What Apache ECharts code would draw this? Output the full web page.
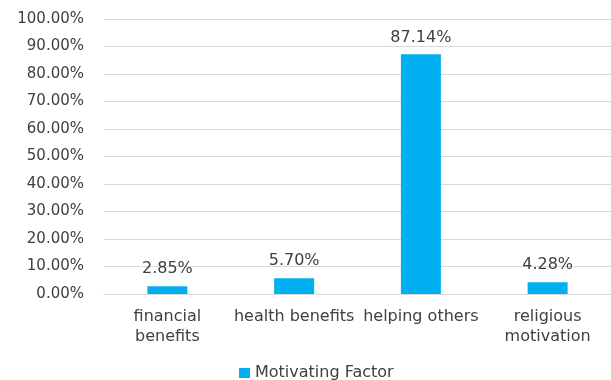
<!DOCTYPE html>
<html>
<head>
<meta charset="utf-8">
<script src="https://cdn.jsdelivr.net/npm/echarts@6/dist/echarts.min.js"></script>
<style>
  html, body { margin: 0; padding: 0; background: #fff; }
  #chart { width: 611px; height: 380px; }
</style>
</head>
<body>
<div id="chart"></div>
<script>
// Motivating factors, share of respondents (%)
const categories = ['financial\nbenefits', 'health benefits', 'helping others', 'religious\nmotivation'];
const values = [2.85, 5.70, 87.14, 4.28];
const seriesName = 'Motivating Factor';

const chart = echarts.init(document.getElementById('chart'), null, { renderer: 'canvas' });
const font = '"DejaVu Sans", sans-serif';
const textColor = '#404040';

chart.setOption({
  animation: false,
  textStyle: { fontFamily: font },
  grid: { left: 104, right: -2, top: 19, bottom: 86 },
  legend: {
    top: 365,
    left: 239,
    padding: 0,
    data: [seriesName],
    icon: 'rect',
    itemWidth: 11,
    itemHeight: 10,
    itemGap: 6,
    textStyle: { fontSize: 16, color: textColor, fontFamily: font }
  },
  xAxis: {
    type: 'category',
    data: categories,
    axisLine: { show: true, lineStyle: { color: '#d9d9d9', width: 1 } },
    axisTick: { show: false },
    axisLabel: { color: textColor, fontSize: 16, margin: 13, lineHeight: 20, fontFamily: font, interval: 0 }
  },
  yAxis: {
    type: 'value',
    min: 0,
    max: 100,
    interval: 10,
    axisLine: { show: false },
    axisTick: { show: false },
    splitLine: { lineStyle: { color: '#d9d9d9', width: 1 } },
    axisLabel: {
      color: textColor, fontSize: 15, margin: 20, fontFamily: font,
      formatter: v => v.toFixed(2) + '%'
    }
  },
  series: [{
    name: seriesName,
    type: 'bar',
    data: values,
    barWidth: 40,
    itemStyle: { color: '#00b0f0' },
    label: {
      show: true,
      position: 'top',
      distance: 9,
      color: textColor,
      fontSize: 16,
      fontFamily: font,
      formatter: p => p.value.toFixed(2) + '%'
    }
  }]
});
</script>
</body>
</html>
